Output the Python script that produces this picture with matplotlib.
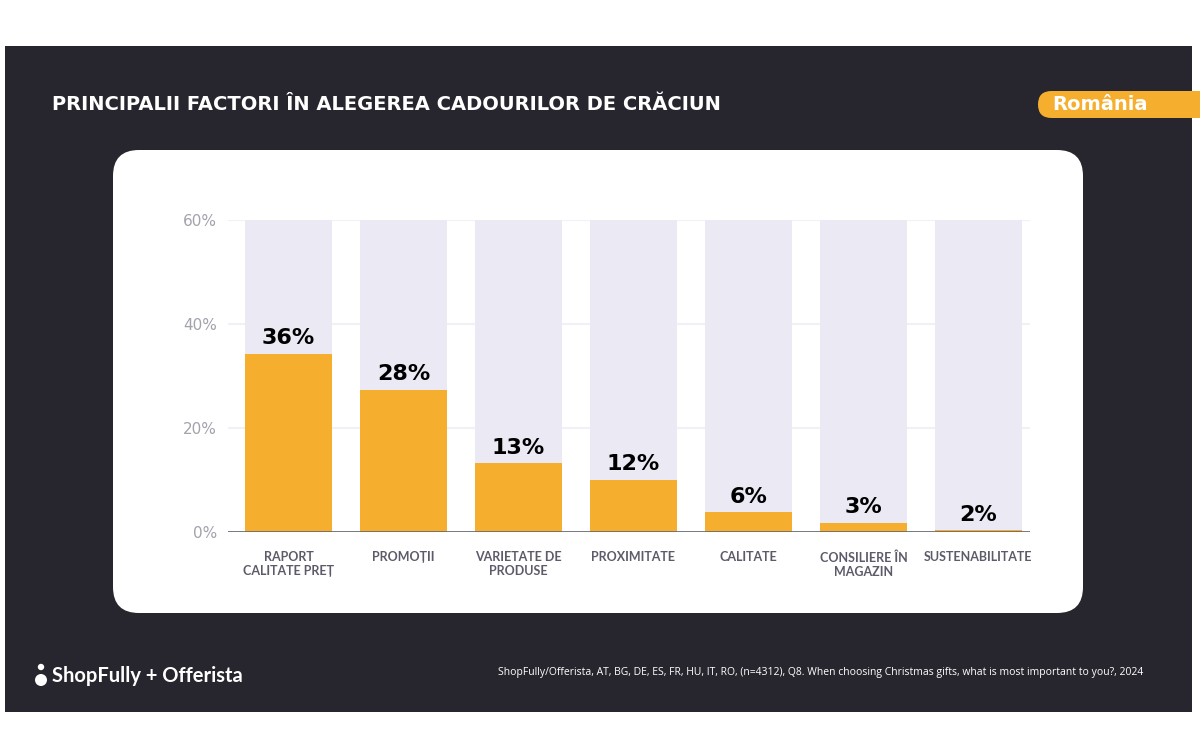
import matplotlib
matplotlib.use("Agg")
import matplotlib.pyplot as plt
from matplotlib.patches import FancyBboxPatch, Rectangle, Circle
import numpy as np

categories = ["RAPORT\nCALITATE PREȚ", "PROMOȚII", "VARIETATE DE\nPRODUSE", "PROXIMITATE",
              "CALITATE", "CONSILIERE ÎN\nMAGAZIN", "SUSTENABILITATE"]
bar_values = [34.3, 27.4, 13.2, 10.0, 3.8, 1.8, 0.3]
value_labels = ["36%", "28%", "13%", "12%", "6%", "3%", "2%"]
y_ticks = [0, 20, 40, 60]
y_tick_labels = ["0%", "20%", "40%", "60%"]
title = "PRINCIPALII FACTORI ÎN ALEGEREA CADOURILOR DE CRĂCIUN"
country = "România"
source = "ShopFully/Offerista, AT, BG, DE, ES, FR, HU, IT, RO, (n=4312), Q8. When choosing Christmas gifts, what is most important to you?, 2024"

DARK = "#27262e"
ORANGE = "#f6ae2f"
LAV = "#ebeaf4"
GRAY = "#5c5b69"

fig = plt.figure(figsize=(12, 7.5), dpi=100)
fig.patch.set_facecolor("white")

bg = fig.add_axes([0, 0, 1, 1])
bg.set_xlim(0, 1200)
bg.set_ylim(750, 0)
bg.axis("off")

bg.add_patch(Rectangle((5, 46), 1187, 666, facecolor=DARK, edgecolor="none"))
bg.add_patch(FancyBboxPatch((1038, 91), 220, 27, boxstyle="round,pad=0,rounding_size=13.5",
                            facecolor=ORANGE, edgecolor="none"))
bg.add_patch(Rectangle((1200, 80), 10, 45, facecolor="white", edgecolor="none"))
bg.add_patch(FancyBboxPatch((113, 150), 970, 463, boxstyle="round,pad=0,rounding_size=26",
                            facecolor="white", edgecolor="none"))

heavy = dict(family=["DejaVu Sans"], weight="bold")
bg.text(52, 104, title, color="white", fontsize=14, va="center", ha="left", **heavy)
bg.text(1052, 104.5, country, color="white", fontsize=14, va="center", ha="left", **heavy)
# logo
bg.add_patch(Circle((41, 680), 6, facecolor="white", edgecolor="none"))
bg.add_patch(Circle((41, 667), 3.2, facecolor="white", edgecolor="none"))
bg.text(52, 676, "ShopFully + Offerista", color="white", fontsize=14.5, va="center", ha="left",
        family=["Lato", "DejaVu Sans"], weight="bold")
bg.text(1143, 673, source, color="white", fontsize=7.5, va="center", ha="right",
        family=["Open Sans", "DejaVu Sans"])

ax = fig.add_axes([228 / 1200, 1 - 532 / 750, (1030 - 228) / 1200, (532 - 220) / 750])
ax.patch.set_alpha(0)
x = np.arange(len(categories))
w = 0.757
ax.bar(x, [60] * len(x), width=w, color=LAV, zorder=1)
ax.bar(x, bar_values, width=w, color=ORANGE, zorder=2)
for xi, v, lab in zip(x, bar_values, value_labels):
    ax.annotate(lab, (xi, v), xytext=(0, 4), textcoords="offset points", ha="center", va="bottom",
                fontsize=16, color="black", **heavy)
ax.set_xlim(-0.526, 6.448)
ax.set_ylim(0, 60)
ax.set_yticks(y_ticks)
ax.set_yticklabels(y_tick_labels)
for yv in y_ticks[1:]:
    ax.axhline(yv, color="#f1f0f6", lw=1.5, zorder=0)
ax.axhline(0, color="#6b6a77", lw=2, zorder=3)
ax.set_xticks(x)
ax.set_xticklabels(categories, fontsize=9, color=GRAY, family=["Lato", "DejaVu Sans"], weight="bold",
                   linespacing=1.2, va="top")
ax.tick_params(axis="both", length=0)
ax.tick_params(axis="x", pad=14)
ax.tick_params(axis="y", pad=8, labelsize=11, labelcolor="#a3a2ad")
for s in ax.spines.values():
    s.set_visible(False)

fig.savefig("out.png", dpi=100)
